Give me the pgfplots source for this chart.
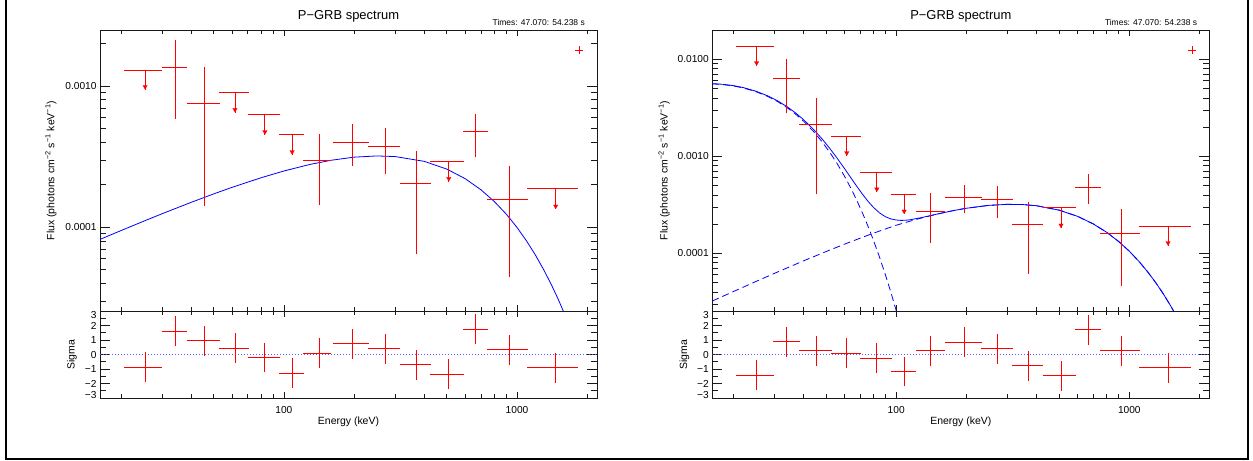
\documentclass[border=0pt]{standalone}
\usepackage{fontspec}
\setmainfont{Liberation Sans}
\usepackage{pgfplots}
\pgfplotsset{compat=1.18}
\definecolor{axcol}{RGB}{25,25,25}
\tikzset{
  grbebar/.style={red, line width=0.9bp, no marks},
  grbahead/.style={red, only marks, mark=triangle*, mark size=2.6bp, mark options={fill=red, draw=red, line width=0.2bp, yshift=3.1bp, rotate=180}},
  grbleg/.style={red, only marks, mark=+, mark size=3.8bp, mark options={line width=0.7bp}},
  grbmodel/.style={blue, line width=0.8bp, no marks},
  grbcomp/.style={blue, line width=0.8bp, no marks, dash pattern=on 7bp off 4bp},
  grbzero/.style={blue!65, line width=0.9bp, no marks, dash pattern=on 1bp off 2bp},
}
\begin{document}
\begin{tikzpicture}
\path[use as bounding box] (0bp,0bp) rectangle (1253bp,461bp);
\draw[line width=2bp, black] (6bp,470bp) -- (6bp,2bp) -- (1248bp,2bp) -- (1248bp,470bp);

% ================= LEFT PANEL =================
% y-tick overlay (long ticks)
\begin{axis}[at={(100bp,150bp)}, anchor=south west, scale only axis, width=497bp, height=281bp,
  xmode=log, ymode=log, xmin=16.27, xmax=2203, ymin=2.556e-5, ymax=2.489e-3,
  axis line style={draw=none}, tick align=inside, major tick length=10bp, minor tick length=6bp,
  tick style={axcol, line width=0.7bp},
  xtick=\empty, ytick={1e-4,1e-3}, yticklabels={},
  minor ytick={3e-5,4e-5,5e-5,6e-5,7e-5,8e-5,9e-5,2e-4,3e-4,4e-4,5e-4,6e-4,7e-4,8e-4,9e-4,2e-3}]
\addplot[draw=none] coordinates {(100,1e-4)};
\end{axis}
% main spectrum axis
\begin{axis}[name=ul, at={(100bp,150bp)}, anchor=south west, scale only axis, width=497bp, height=281bp,
  xmode=log, ymode=log, xmin=16.27, xmax=2203, ymin=2.556e-5, ymax=2.489e-3,
  axis line style={line width=0.8bp, axcol}, tick align=inside, major tick length=6bp, minor tick length=3.7bp,
  tick style={axcol, line width=0.7bp},
  xtick={100,1000}, xticklabels={},
  minor xtick={20,30,40,50,60,70,80,90,200,300,400,500,600,700,800,900,2000},
  ytick={1e-4,1e-3}, yticklabels={0.0001,0.0010}, ytick style={draw=none},
  tick label style={font=\fontsize{10.2}{12}\selectfont},
  title={P−GRB spectrum},
  title style={font=\fontsize{13}{15}\selectfont, at={(axis description cs:0.5,1)}, anchor=base, yshift=4.3bp},
  ylabel={Flux (photons cm\textsuperscript{−2} s\textsuperscript{−1} keV\textsuperscript{−1})},
  every axis y label/.style={at={(axis description cs:-0.099,0.5)}, rotate=90, anchor=center, font=\fontsize{10.5}{12}\selectfont}]
\addplot[grbmodel] coordinates {(16.27,8.21e-5) (20,9.47e-5) (25,1.103e-4) (30,1.246e-4) (40,1.501e-4) (50,1.723e-4) (60,1.919e-4) (80,2.244e-4) (100,2.502e-4) (130,2.789e-4) (160,2.983e-4) (200,3.135e-4) (250,3.198e-4) (300,3.166e-4) (400,2.928e-4) (500,2.580e-4) (600,2.205e-4) (700,1.844e-4) (800,1.519e-4) (900,1.237e-4) (1000,9.97e-5) (1100,7.98e-5) (1200,6.35e-5) (1300,5.02e-5) (1400,3.96e-5) (1500,3.11e-5) (1600,2.43e-5)};
\addplot[grbebar, unbounded coords=jump] coordinates {
(20.7,1.28e-3) (29.9,1.28e-3) (nan,nan) (25.4,1.28e-3) (25.4,9.4e-4) (nan,nan)
(29.9,1.35e-3) (38.6,1.35e-3) (nan,nan) (34.2,5.87e-4) (34.2,2.12e-3) (nan,nan)
(38.3,7.5e-4) (53.2,7.5e-4) (nan,nan) (45.7,1.415e-4) (45.7,1.355e-3) (nan,nan)
(52.6,9.02e-4) (70.8,9.02e-4) (nan,nan) (61.7,9.02e-4) (61.7,6.47e-4) (nan,nan)
(70.3,6.26e-4) (96.1,6.26e-4) (nan,nan) (82.9,6.26e-4) (82.9,4.5e-4) (nan,nan)
(95.2,4.55e-4) (122.3,4.55e-4) (nan,nan) (108.5,4.55e-4) (108.5,3.25e-4) (nan,nan)
(121,2.99e-4) (158.6,2.99e-4) (nan,nan) (141.6,1.44e-4) (141.6,4.55e-4) (nan,nan)
(161.7,4.0e-4) (232,4.0e-4) (nan,nan) (196,2.73e-4) (196,5.38e-4) (nan,nan)
(230,3.71e-4) (316,3.71e-4) (nan,nan) (273.5,2.37e-4) (273.5,5.02e-4) (nan,nan)
(314,2.05e-4) (425.7,2.05e-4) (nan,nan) (370.6,6.47e-5) (370.6,3.47e-4) (nan,nan)
(422.6,2.91e-4) (591,2.91e-4) (nan,nan) (509.6,2.91e-4) (509.6,2.1e-4) (nan,nan)
(587.5,4.75e-4) (751.6,4.75e-4) (nan,nan) (665,3.13e-4) (665,6.31e-4) (nan,nan)
(747,1.58e-4) (1114,1.58e-4) (nan,nan) (924.6,4.47e-5) (924.6,2.72e-4) (nan,nan)
(1107,1.87e-4) (1824,1.87e-4) (nan,nan) (1465,1.87e-4) (1465,1.34e-4)};
\addplot[grbahead] coordinates {(25.4,9.4e-4) (61.7,6.47e-4) (82.9,4.5e-4) (108.5,3.25e-4) (509.6,2.1e-4) (1465,1.34e-4)};
\addplot[grbleg] coordinates {(1844,1.80e-3)};
\end{axis}
\node[anchor=base east, font=\fontsize{8.5}{10}\selectfont, inner sep=0pt, xshift=-12bp, yshift=4.3bp] at (ul.north east) {Times: 47.070: 54.238 s};

% residual y-tick overlay
\begin{axis}[at={(100bp,63bp)}, anchor=south west, scale only axis, width=497bp, height=87bp,
  xmode=log, xmin=16.27, xmax=2203, ymin=-3, ymax=3,
  axis line style={draw=none}, tick align=inside, major tick length=10bp, minor tick length=6bp,
  tick style={axcol, line width=0.7bp},
  xtick=\empty, ytick={-3,-2,-1,0,1,2,3}, yticklabels={},
  minor ytick={-2.5,-1.5,-0.5,0.5,1.5,2.5}]
\addplot[draw=none] coordinates {(100,0)};
\end{axis}
% residual main axis
\begin{axis}[at={(100bp,63bp)}, anchor=south west, scale only axis, width=497bp, height=87bp,
  xmode=log, xmin=16.27, xmax=2203, ymin=-3, ymax=3,
  axis line style={line width=0.8bp, axcol}, tick align=inside, major tick length=6bp, minor tick length=3.7bp,
  tick style={axcol, line width=0.7bp},
  xtick={100,1000}, xticklabels={100,1000},
  minor xtick={20,30,40,50,60,70,80,90,200,300,400,500,600,700,800,900,2000},
  ytick={-3,-2,-1,0,1,2,3}, ytick style={draw=none},
  yticklabels={{\smash{\lower0.6bp\hbox{−3}}},{\smash{\lower3.6bp\hbox{−2}}},{\smash{\lower3.6bp\hbox{−1}}},{\smash{\lower3.6bp\hbox{0}}},{\smash{\lower3.6bp\hbox{1}}},{\smash{\lower3.6bp\hbox{2}}},{\smash{\lower7.6bp\hbox{3}}}},
  tick label style={font=\fontsize{10.2}{12}\selectfont},
  xticklabel style={yshift=-4.5bp},
  ylabel={Sigma},
  every axis y label/.style={at={(axis description cs:-0.0563,0.5)}, rotate=90, anchor=center, font=\fontsize{10.5}{12}\selectfont},
  xlabel={Energy (keV)},
  every axis x label/.style={at={(axis description cs:0.5,-0.276)}, anchor=center, font=\fontsize{10.5}{12}\selectfont}]
\addplot[grbzero] coordinates {(16.27,0) (2203,0)};
\addplot[grbebar, unbounded coords=jump] coordinates {
(20.7,-0.89) (29.9,-0.89) (nan,nan) (25.4,-1.92) (25.4,0.14) (nan,nan)
(29.9,1.61) (38.6,1.61) (nan,nan) (34.2,0.58) (34.2,2.64) (nan,nan)
(38.3,0.96) (53.2,0.96) (nan,nan) (45.7,-0.07) (45.7,1.99) (nan,nan)
(52.6,0.44) (70.8,0.44) (nan,nan) (61.7,-0.59) (61.7,1.47) (nan,nan)
(70.3,-0.21) (96.1,-0.21) (nan,nan) (82.9,-1.24) (82.9,0.82) (nan,nan)
(95.2,-1.28) (122.3,-1.28) (nan,nan) (108.5,-2.31) (108.5,-0.25) (nan,nan)
(121,0.10) (158.6,0.10) (nan,nan) (141.6,-0.93) (141.6,1.13) (nan,nan)
(161.7,0.74) (232,0.74) (nan,nan) (196,-0.29) (196,1.77) (nan,nan)
(230,0.39) (316,0.39) (nan,nan) (273.5,-0.64) (273.5,1.42) (nan,nan)
(314,-0.71) (425.7,-0.71) (nan,nan) (370.6,-1.74) (370.6,0.32) (nan,nan)
(422.6,-1.35) (591,-1.35) (nan,nan) (509.6,-2.38) (509.6,-0.32) (nan,nan)
(587.5,1.75) (751.6,1.75) (nan,nan) (665,0.72) (665,2.78) (nan,nan)
(747,0.32) (1114,0.32) (nan,nan) (924.6,-0.71) (924.6,1.35) (nan,nan)
(1107,-0.91) (1824,-0.91) (nan,nan) (1465,-1.94) (1465,0.12)};
\end{axis}

% ================= RIGHT PANEL =================
\begin{axis}[at={(712.3bp,150bp)}, anchor=south west, scale only axis, width=497bp, height=281bp,
  xmode=log, ymode=log, xmin=16.27, xmax=2203, ymin=2.54e-5, ymax=2.004e-2,
  axis line style={draw=none}, tick align=inside, major tick length=10bp, minor tick length=6bp,
  tick style={axcol, line width=0.7bp},
  xtick=\empty, ytick={1e-4,1e-3,1e-2}, yticklabels={},
  minor ytick={3e-5,4e-5,5e-5,6e-5,7e-5,8e-5,9e-5,2e-4,3e-4,4e-4,5e-4,6e-4,7e-4,8e-4,9e-4,2e-3,3e-3,4e-3,5e-3,6e-3,7e-3,8e-3,9e-3}]
\addplot[draw=none] coordinates {(100,1e-4)};
\end{axis}
\begin{axis}[name=ur, at={(712.3bp,150bp)}, anchor=south west, scale only axis, width=497bp, height=281bp,
  xmode=log, ymode=log, xmin=16.27, xmax=2203, ymin=2.54e-5, ymax=2.004e-2,
  axis line style={line width=0.8bp, axcol}, tick align=inside, major tick length=6bp, minor tick length=3.7bp,
  tick style={axcol, line width=0.7bp},
  xtick={100,1000}, xticklabels={},
  minor xtick={20,30,40,50,60,70,80,90,200,300,400,500,600,700,800,900,2000},
  ytick={1e-4,1e-3,1e-2}, yticklabels={0.0001,0.0010,0.0100}, ytick style={draw=none},
  tick label style={font=\fontsize{10.2}{12}\selectfont},
  title={P−GRB spectrum},
  title style={font=\fontsize{13}{15}\selectfont, at={(axis description cs:0.5,1)}, anchor=base, yshift=4.3bp},
  ylabel={Flux (photons cm\textsuperscript{−2} s\textsuperscript{−1} keV\textsuperscript{−1})},
  every axis y label/.style={at={(axis description cs:-0.097,0.5)}, rotate=90, anchor=center, font=\fontsize{10.5}{12}\selectfont}]
\addplot[grbcomp] coordinates {(16.27,5.58e-3) (18,5.49e-3) (20,5.315e-3) (22,5.076e-3) (25,4.643e-3) (28,4.159e-3) (31,3.664e-3) (34,3.179e-3) (37,2.725e-3) (40,2.309e-3) (44,1.824e-3) (48,1.4206e-3) (52,1.0914e-3) (56,8.30e-4) (60,6.246e-4) (64,4.662e-4) (68,3.453e-4) (72,2.540e-4) (76,1.857e-4) (80,1.350e-4) (85,9.00e-5) (90,5.96e-5) (95,3.925e-5) (100,2.57e-5) (105,1.674e-5)};
\addplot[grbcomp] coordinates {(16.27,3.22e-5) (20,4.024e-5) (25,5.113e-5) (30,6.20e-5) (40,8.34e-5) (50,1.041e-4) (60,1.241e-4) (70,1.430e-4) (80,1.612e-4) (90,1.783e-4) (100,1.945e-4) (115,2.148e-4) (130,2.328e-4) (150,2.537e-4) (175,2.748e-4) (200,2.912e-4) (250,3.119e-4) (300,3.197e-4) (350,3.178e-4) (400,3.09e-4) (500,2.785e-4) (600,2.403e-4) (700,2.009e-4) (800,1.644e-4) (900,1.322e-4) (1000,1.05e-4) (1100,8.24e-5) (1200,6.41e-5) (1300,4.95e-5) (1400,3.80e-5) (1500,2.90e-5) (1600,2.20e-5)};
\addplot[grbmodel] coordinates {(16.27,5.612e-3) (18,5.526e-3) (20,5.355e-3) (22,5.121e-3) (25,4.694e-3) (28,4.217e-3) (31,3.729e-3) (34,3.250e-3) (37,2.803e-3) (40,2.392e-3) (44,1.915e-3) (48,1.520e-3) (52,1.1985e-3) (56,9.45e-4) (60,7.487e-4) (64,5.98e-4) (68,4.847e-4) (72,4.007e-4) (76,3.397e-4) (80,2.962e-4) (85,2.599e-4) (90,2.379e-4) (95,2.259e-4) (100,2.202e-4) (105,2.182e-4) (110,2.19e-4) (115,2.218e-4) (130,2.347e-4) (150,2.537e-4) (175,2.748e-4) (200,2.912e-4) (250,3.119e-4) (300,3.197e-4) (350,3.178e-4) (400,3.09e-4) (500,2.785e-4) (600,2.403e-4) (700,2.009e-4) (800,1.644e-4) (900,1.322e-4) (1000,1.05e-4) (1100,8.24e-5) (1200,6.41e-5) (1300,4.95e-5) (1400,3.80e-5) (1500,2.90e-5) (1600,2.20e-5)};
\addplot[grbebar, unbounded coords=jump] coordinates {
(20.6,1.371e-2) (30.0,1.371e-2) (nan,nan) (25.2,1.371e-2) (25.2,8.53e-3) (nan,nan)
(29.7,6.37e-3) (38.5,6.37e-3) (nan,nan) (34.0,2.77e-3) (34.0,1.007e-2) (nan,nan)
(38.4,2.153e-3) (53.0,2.153e-3) (nan,nan) (45.7,4.06e-4) (45.7,3.96e-3) (nan,nan)
(52.6,1.619e-3) (70.6,1.619e-3) (nan,nan) (61.4,1.619e-3) (61.4,1.007e-3) (nan,nan)
(70.1,6.84e-4) (95.8,6.84e-4) (nan,nan) (82.6,6.84e-4) (82.6,4.26e-4) (nan,nan)
(94.8,4.06e-4) (121.9,4.06e-4) (nan,nan) (108.2,4.06e-4) (108.2,2.52e-4) (nan,nan)
(121.5,2.69e-4) (162.2,2.69e-4) (nan,nan) (140.9,1.29e-4) (140.9,4.16e-4) (nan,nan)
(162.2,3.74e-4) (233.2,3.74e-4) (nan,nan) (196.4,2.58e-4) (196.4,5.06e-4) (nan,nan)
(231,3.60e-4) (317,3.60e-4) (nan,nan) (273,2.30e-4) (273,4.94e-4) (nan,nan)
(313.7,2.0e-4) (426.5,2.0e-4) (nan,nan) (370,6.12e-5) (370,3.40e-4) (nan,nan)
(425,2.95e-4) (590.5,2.95e-4) (nan,nan) (509.2,2.95e-4) (509.2,1.81e-4) (nan,nan)
(586,4.79e-4) (756,4.79e-4) (nan,nan) (669,3.20e-4) (669,6.52e-4) (nan,nan)
(746,1.607e-4) (1115,1.607e-4) (nan,nan) (925,4.6e-5) (925,2.84e-4) (nan,nan)
(1104,1.91e-4) (1840,1.91e-4) (nan,nan) (1466,1.91e-4) (1466,1.19e-4)};
\addplot[grbahead] coordinates {(25.2,8.53e-3) (61.4,1.007e-3) (82.6,4.26e-4) (108.2,2.52e-4) (509.2,1.81e-4) (1466,1.19e-4)};
\addplot[grbleg] coordinates {(1858,1.248e-2)};
\end{axis}
\node[anchor=base east, font=\fontsize{8.5}{10}\selectfont, inner sep=0pt, xshift=-12bp, yshift=4.3bp] at (ur.north east) {Times: 47.070: 54.238 s};

\begin{axis}[at={(712.3bp,63bp)}, anchor=south west, scale only axis, width=497bp, height=87bp,
  xmode=log, xmin=16.27, xmax=2203, ymin=-3, ymax=3,
  axis line style={draw=none}, tick align=inside, major tick length=10bp, minor tick length=6bp,
  tick style={axcol, line width=0.7bp},
  xtick=\empty, ytick={-3,-2,-1,0,1,2,3}, yticklabels={},
  minor ytick={-2.5,-1.5,-0.5,0.5,1.5,2.5}]
\addplot[draw=none] coordinates {(100,0)};
\end{axis}
\begin{axis}[at={(712.3bp,63bp)}, anchor=south west, scale only axis, width=497bp, height=87bp,
  xmode=log, xmin=16.27, xmax=2203, ymin=-3, ymax=3,
  axis line style={line width=0.8bp, axcol}, tick align=inside, major tick length=6bp, minor tick length=3.7bp,
  tick style={axcol, line width=0.7bp},
  xtick={100,1000}, xticklabels={100,1000},
  minor xtick={20,30,40,50,60,70,80,90,200,300,400,500,600,700,800,900,2000},
  ytick={-3,-2,-1,0,1,2,3}, ytick style={draw=none},
  yticklabels={{\smash{\lower0.6bp\hbox{−3}}},{\smash{\lower3.6bp\hbox{−2}}},{\smash{\lower3.6bp\hbox{−1}}},{\smash{\lower3.6bp\hbox{0}}},{\smash{\lower3.6bp\hbox{1}}},{\smash{\lower3.6bp\hbox{2}}},{\smash{\lower7.6bp\hbox{3}}}},
  tick label style={font=\fontsize{10.2}{12}\selectfont},
  xticklabel style={yshift=-4.5bp},
  ylabel={Sigma},
  every axis y label/.style={at={(axis description cs:-0.0563,0.5)}, rotate=90, anchor=center, font=\fontsize{10.5}{12}\selectfont},
  xlabel={Energy (keV)},
  every axis x label/.style={at={(axis description cs:0.5,-0.276)}, anchor=center, font=\fontsize{10.5}{12}\selectfont}]
\addplot[grbzero] coordinates {(16.27,0) (2203,0)};
\addplot[grbebar, unbounded coords=jump] coordinates {
(20.6,-1.44) (30.0,-1.44) (nan,nan) (25.2,-2.47) (25.2,-0.41) (nan,nan)
(29.7,0.89) (38.5,0.89) (nan,nan) (34.0,-0.14) (34.0,1.92) (nan,nan)
(38.4,0.25) (53.0,0.25) (nan,nan) (45.7,-0.78) (45.7,1.28) (nan,nan)
(52.6,0.10) (70.6,0.10) (nan,nan) (61.4,-0.93) (61.4,1.13) (nan,nan)
(70.1,-0.25) (95.8,-0.25) (nan,nan) (82.6,-1.28) (82.6,0.78) (nan,nan)
(94.8,-1.17) (121.9,-1.17) (nan,nan) (108.2,-2.20) (108.2,-0.14) (nan,nan)
(121.5,0.25) (162.2,0.25) (nan,nan) (140.9,-0.78) (140.9,1.28) (nan,nan)
(162.2,0.85) (233.2,0.85) (nan,nan) (196.4,-0.18) (196.4,1.88) (nan,nan)
(231,0.39) (317,0.39) (nan,nan) (273,-0.64) (273,1.42) (nan,nan)
(313.7,-0.78) (426.5,-0.78) (nan,nan) (370,-1.81) (370,0.25) (nan,nan)
(425,-1.46) (590.5,-1.46) (nan,nan) (509.2,-2.49) (509.2,-0.43) (nan,nan)
(586,1.70) (756,1.70) (nan,nan) (669,0.67) (669,2.73) (nan,nan)
(746,0.27) (1115,0.27) (nan,nan) (925,-0.76) (925,1.30) (nan,nan)
(1104,-0.91) (1840,-0.91) (nan,nan) (1466,-1.94) (1466,0.12)};
\end{axis}
\end{tikzpicture}
\end{document}
